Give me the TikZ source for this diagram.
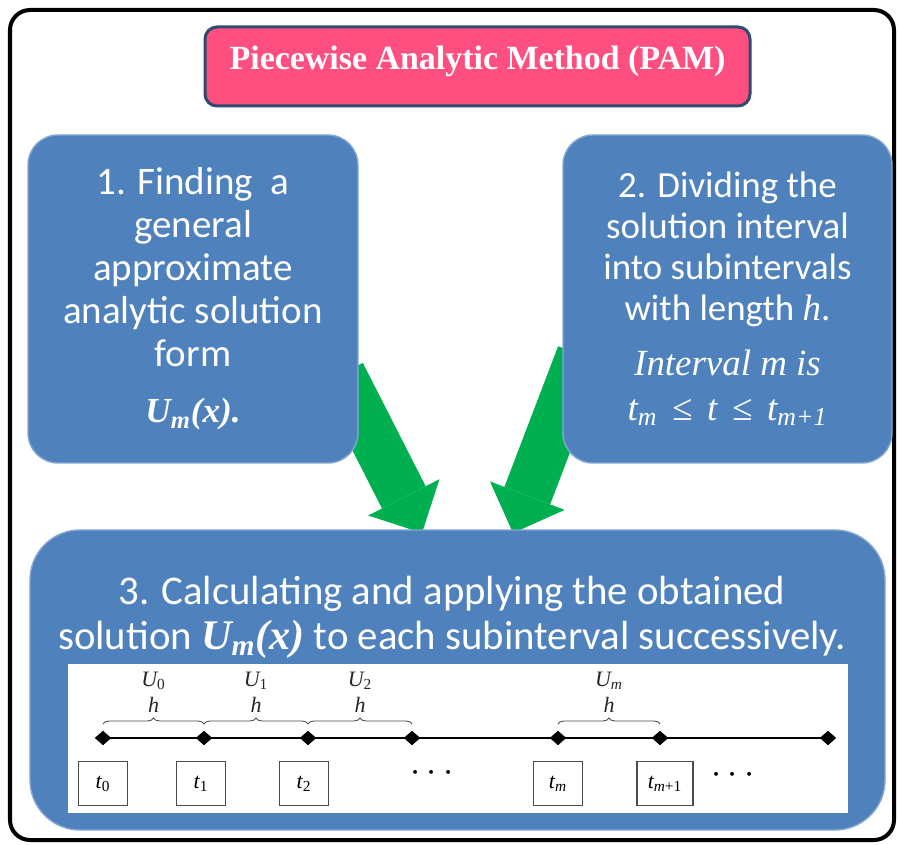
\documentclass[tikz,border=0pt]{standalone}
\usepackage{fontspec}
\setmainfont{Carlito}
\newfontfamily\timesf{Liberation Serif}
\usetikzlibrary{positioning, shapes.geometric, arrows.meta, decorations.pathreplacing}
\definecolor{boxblue}{HTML}{4F81BD}
\definecolor{titlepink}{HTML}{FF4F81}
\definecolor{titleedge}{HTML}{2E4A6E}
\definecolor{arrowgreen}{HTML}{00B050}

\begin{document}
\begin{tikzpicture}[thick,
    stepbox/.style={fill=boxblue, draw=boxblue!70!white, line width=0.8pt, rounded corners=0.6cm, text=white, align=center, inner sep=0pt},
    fatarrow/.style={arrowgreen, line width=0.98cm, -{Triangle[width=1.6cm, length=0.8cm, line width=0pt]}},
    dot/.style={diamond, fill=black, inner sep=0pt, minimum width=0.34cm, minimum height=0.3cm},
    tbox/.style={draw=black!70, line width=0.6pt, minimum width=0.98cm, minimum height=0.88cm, inner sep=0pt, font=\timesf\itshape\fontsize{12.5}{13}\selectfont},
    brace/.style={decorate, decoration={brace, amplitude=0.12cm}, line width=0.5pt, black!70},
    small/.style={text=black!85, font=\timesf\itshape\fontsize{12.5}{13}\selectfont}]
    \useasboundingbox (0,0) rectangle (17.98,-16.9);
    % Outer frame
    \draw[line width=0.08cm, rounded corners=0.4cm] (0.2,-0.2) rectangle (17.88,-16.8);
    % Green arrows, under the boxes
    \coordinate (tailL) at (6.82,-7.48);
    \coordinate (tipL) at (8.44,-10.66);
    \coordinate (tailR) at (11.62,-7.1);
    \coordinate (tipR) at (10.26,-10.66);
    \draw[fatarrow] (tailL) -- (tipL);
    \draw[fatarrow] (tailR) -- (tipR);
    % Title
    \node[fill=titlepink, draw=titleedge, line width=0.06cm, rounded corners=0.24cm, minimum width=10.9cm, minimum height=1.58cm, text depth=0.36cm, text=white, font=\timesf\bfseries\fontsize{19.3}{20}\selectfont] (title) at (9.55,-1.33) {Piecewise Analytic Method (PAM)};
    % Step 1
    \node[stepbox, minimum width=6.6cm, minimum height=6.56cm, font=\fontsize{22.2}{24.5}\selectfont] (step1) at (3.86,-5.98)
        {1. Finding~ a\\general\\approximate\\analytic solution\\form\\[0.26cm]{\timesf\bfseries\itshape\fontsize{20}{24.5}\selectfont U\textsubscript{m}(x).}};
    % Step 2
    \node[stepbox, minimum width=6.58cm, minimum height=6.56cm, font=\fontsize{21}{23.3}\selectfont] (step2) at (14.55,-5.98)
        {2. Dividing the\\solution interval\\into subintervals\\with length {\timesf\itshape h}.\\[0.28cm]{\timesf\itshape Interval m is}\\[0.08cm]{\timesf\itshape t\textsubscript{m}\hspace{0.4em}≤\hspace{0.4em}t\hspace{0.4em}≤\hspace{0.4em}t\textsubscript{m+1}}};
    % Step 3
    \node[stepbox, rounded corners=1cm, minimum width=17.1cm, minimum height=6cm] (step3) at (9.15,-13.6) {};
    \node[text=white, align=center, font=\fontsize{23.2}{25.6}\selectfont] (step3txt) at (9.04,-12.34)
        {3. Calculating and applying the obtained\\solution {\timesf\bfseries\itshape\fontsize{24}{25.6}\selectfont U\textsubscript{m}(x)} to each subinterval successively.};
    % Timeline panel
    \node[fill=white, minimum width=15.6cm, minimum height=2.98cm, inner sep=0pt] (panel) at (9.16,-14.77) {};
    % Time points
    \draw[line width=0.6pt] (2.06,-14.76) -- (16.56,-14.76);
    \foreach \x [count=\i from 0] in {2.06,4.08,6.16,8.24,11.16,13.2,16.56}
        \node[dot] (d\i) at (\x,-14.76) {};
    % Braces
    \foreach \a/\b/\u in {0/1/\upshape 0, 1/2/\upshape 1, 2/3/\upshape 2, 4/5/m}
        \draw[brace] ([yshift=0.28cm]d\a.center) -- ([yshift=0.28cm]d\b.center)
            node[small, midway, above=0.1cm] (h\a) {h}
            node[small, midway, above=0.56cm] (u\a) {U\textsubscript{\u}};
    % Time labels
    \node[tbox, below=0.3cm of d0] (t0) {t\textsubscript{\upshape 0}};
    \node[tbox, below=0.3cm of d1, xshift=-0.06cm] (t1) {t\textsubscript{\upshape 1}};
    \node[tbox, below=0.3cm of d2, xshift=-0.08cm] (t2) {t\textsubscript{\upshape 2}};
    \node[tbox, below=0.3cm of d4] (t4) {t\textsubscript{m}};
    \node[tbox, minimum width=1.12cm, below=0.3cm of d5, xshift=0.1cm] (t5) {t\textsubscript{m\upshape +1}};
    \node[font=\fontsize{20}{20}\selectfont] (dots1) at (8.64,-15.46) {$\cdots$};
    \node[font=\fontsize{20}{20}\selectfont] (dots2) at (14.66,-15.5) {$\cdots$};
\end{tikzpicture}
\end{document}
